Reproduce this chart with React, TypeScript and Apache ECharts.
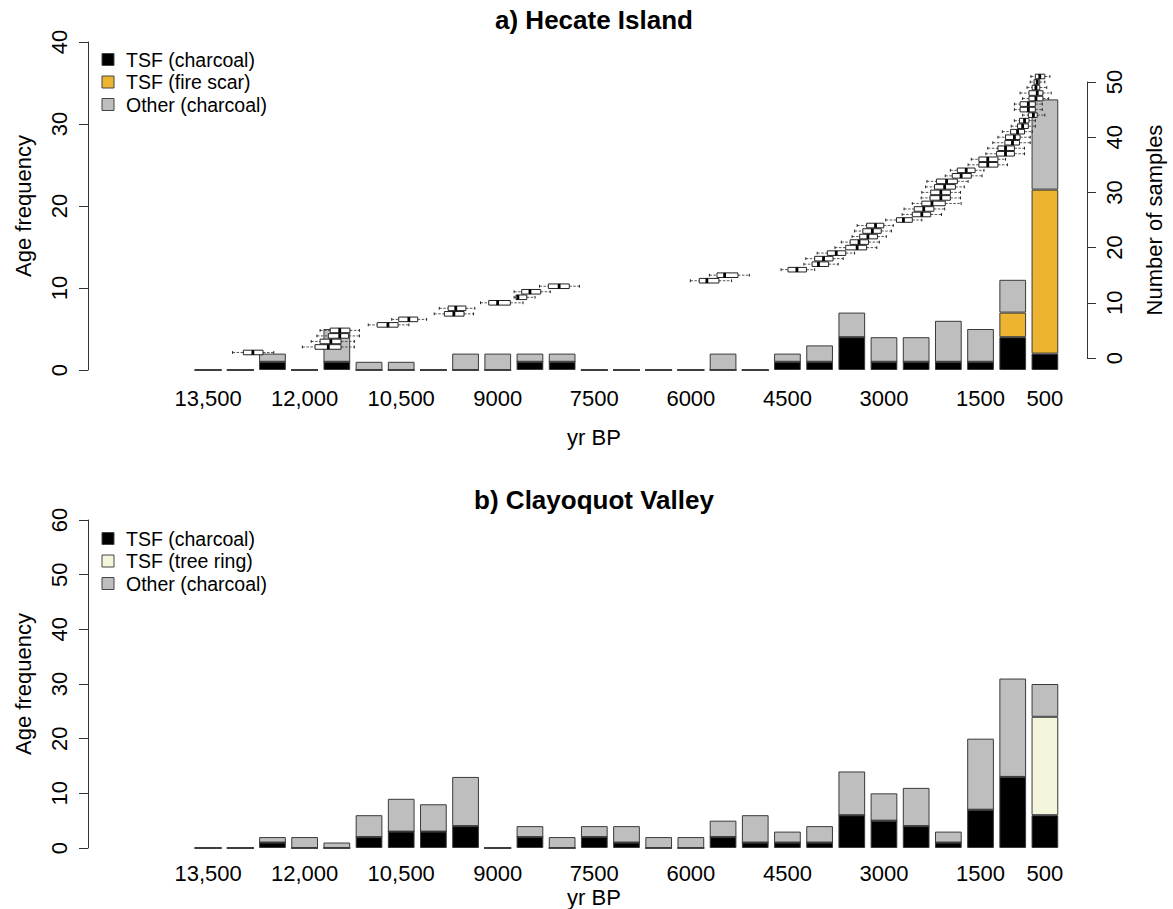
import React, { useEffect, useRef } from "react";
import * as echarts from "echarts";

const FONT = "'Liberation Sans', Arial, Helvetica, sans-serif";

// 500-yr bins (yr BP), oldest first
const binAges = [13500, 13000, 12500, 12000, 11500, 11000, 10500, 10000, 9500, 9000, 8500, 8000, 7500, 7000, 6500, 6000, 5500, 5000, 4500, 4000, 3500, 3000, 2500, 2000, 1500, 1000, 500];
const binLabels = ["13,500", "", "", "12,000", "", "", "10,500", "", "", "9000", "", "", "7500", "", "", "6000", "", "", "4500", "", "", "3000", "", "", "1500", "", "500"];

// a) Hecate Island
const hecateCharcoal = [0, 0, 1, 0, 1, 0, 0, 0, 0, 0, 1, 1, 0, 0, 0, 0, 0, 0, 1, 1, 4, 1, 1, 1, 1, 4, 2];
const hecateFireScar = [0, 0, 0, 0, 0, 0, 0, 0, 0, 0, 0, 0, 0, 0, 0, 0, 0, 0, 0, 0, 0, 0, 0, 0, 0, 3, 20];
const hecateOther = [0, 0, 1, 0, 4, 1, 1, 0, 2, 2, 1, 1, 0, 0, 0, 0, 2, 0, 1, 2, 3, 3, 3, 5, 4, 4, 11];

// b) Clayoquot Valley
const clayCharcoal = [0, 0, 1, 0, 0, 2, 3, 3, 4, 0, 2, 0, 2, 1, 0, 0, 2, 1, 1, 1, 6, 5, 4, 1, 7, 13, 6];
const clayTreeRing = [0, 0, 0, 0, 0, 0, 0, 0, 0, 0, 0, 0, 0, 0, 0, 0, 0, 0, 0, 0, 0, 0, 0, 0, 0, 0, 18];
const clayOther = [0, 0, 1, 2, 1, 4, 6, 5, 9, 0, 2, 2, 2, 3, 2, 2, 3, 5, 2, 3, 8, 5, 7, 2, 13, 18, 6];

// Hecate sample age distributions (yr BP): [whisker old, box old, median, box young, whisker young]
const hecateSamples = [
  [13110, 12940, 12790, 12630, 12460],
  [12010, 11810, 11600, 11400, 11190],
  [11870, 11730, 11560, 11400, 11190],
  [11780, 11600, 11420, 11280, 11110],
  [11730, 11570, 11420, 11260, 11110],
  [10970, 10830, 10660, 10500, 10330],
  [10600, 10490, 10330, 10190, 10050],
  [9930, 9770, 9620, 9460, 9310],
  [9850, 9710, 9590, 9430, 9290],
  [9200, 9070, 8930, 8730, 8530],
  [8670, 8640, 8610, 8470, 8340],
  [8670, 8550, 8420, 8250, 8100],
  [8270, 8130, 7960, 7800, 7640],
  [5890, 5750, 5630, 5440, 5240],
  [5590, 5470, 5350, 5140, 4960],
  [4460, 4350, 4210, 4060, 3930],
  [4100, 3970, 3870, 3710, 3560],
  [4070, 3930, 3790, 3640, 3480],
  [3890, 3730, 3590, 3440, 3300],
  [3610, 3440, 3260, 3110, 2950],
  [3510, 3370, 3230, 3080, 2910],
  [3340, 3220, 3090, 2940, 2800],
  [3300, 3170, 3020, 2880, 2720],
  [3260, 3110, 2970, 2840, 2690],
  [2810, 2640, 2530, 2390, 2240],
  [2550, 2390, 2240, 2100, 1930],
  [2520, 2360, 2210, 2050, 1880],
  [2390, 2240, 2080, 1870, 1620],
  [2250, 2110, 1940, 1790, 1630],
  [2240, 2100, 1940, 1790, 1630],
  [2180, 2040, 1880, 1710, 1570],
  [2160, 2010, 1850, 1680, 1510],
  [1870, 1760, 1620, 1460, 1290],
  [1790, 1680, 1540, 1400, 1260],
  [1510, 1340, 1200, 1040, 890],
  [1460, 1340, 1200, 1040, 920],
  [1230, 1060, 920, 780, 620],
  [1200, 1040, 920, 780, 620],
  [1120, 930, 810, 700, 530],
  [1040, 920, 780, 690, 530],
  [970, 840, 730, 620, 500],
  [830, 730, 650, 560, 450],
  [780, 700, 620, 550, 450],
  [650, 560, 480, 420, 300],
  [780, 690, 560, 450, 340],
  [780, 690, 560, 450, 340],
  [650, 550, 440, 330, 240],
  [690, 550, 420, 330, 200],
  [580, 500, 440, 380, 270],
  [530, 470, 420, 380, 300],
  [520, 450, 380, 300, 220],
];

const C_BLACK = "#000000";
const C_FIRE = "#ECB431";
const C_TREE = "#F5F5DC";
const C_OTHER = "#BEBEBE";
const BORDER = "#3a3a3a";

const GRID_L = 192;
const GRID_R = 1173 - 1061;
const LEFT_AXIS_X = 88;
const RIGHT_AXIS_X = 1100;
const PLOT_CX = 594;

function barSeries(name: string, data: number[], color: string, axis: number, stack: string) {
  return {
    type: "bar",
    name,
    data,
    stack,
    xAxisIndex: axis,
    yAxisIndex: axis,
    barCategoryGap: "17%",
    itemStyle: { color, borderColor: BORDER, borderWidth: 1 },
    emphasis: { disabled: true },
    z: 2,
  };
}

function legendGraphics(midRow: number, items: { name: string; color: string }[]) {
  const out: any[] = [];
  const step = 22.5;
  items.forEach((it, i) => {
    const cy = midRow + (i - 1) * step;
    out.push({
      type: "rect",
      shape: { x: 102, y: cy - 6, width: 12, height: 12 },
      style: { fill: it.color, stroke: "#444", lineWidth: 1 },
    });
    out.push({
      type: "text",
      x: 126,
      y: cy,
      style: { text: it.name, fontSize: 19.5, fontFamily: FONT, fill: "#000", align: "left", verticalAlign: "middle" },
    });
  });
  return out;
}

function yAxisCommon(min: number, max: number, name: string, gridIndex: number, position: string, offset: number, labelMargin: number, nameGap: number) {
  return {
    type: "value",
    gridIndex,
    min,
    max,
    interval: 10,
    position,
    offset,
    name,
    nameLocation: "middle",
    nameRotate: 90,
    nameGap,
    nameTextStyle: { fontSize: 22, fontFamily: FONT, color: "#000" },
    axisLine: { show: true, lineStyle: { color: "#333", width: 1 } },
    axisTick: { show: true, length: 9, lineStyle: { color: "#333", width: 1 } },
    axisLabel: { rotate: 90, margin: labelMargin, fontSize: 22, fontFamily: FONT, color: "#000" },
    splitLine: { show: false },
  };
}

function catAxis(gridIndex: number, margin: number) {
  return {
    type: "category",
    gridIndex,
    data: binAges.map(String),
    axisLine: { show: false },
    axisTick: { show: false },
    axisLabel: {
      interval: 0,
      margin,
      fontSize: 22,
      fontFamily: FONT,
      color: "#000",
      formatter: (_v: string, i: number) => binLabels[i],
    },
    splitLine: { show: false },
  };
}

export default function App() {
  const ref = useRef<HTMLDivElement>(null);
  useEffect(() => {
    if (!ref.current) return;
    const chart = echarts.init(ref.current, undefined, { renderer: "svg" });
    const option: any = {
      animation: false,
      backgroundColor: "#fff",
      grid: [
        { left: GRID_L, right: GRID_R, top: 42, height: 328 },
        { left: GRID_L, right: GRID_R, top: 82, height: 276 },
        { left: GRID_L, right: GRID_R, top: 520, height: 328 },
      ],
      xAxis: [
        catAxis(0, 17),
        { type: "value", gridIndex: 1, min: 250, max: 13750, inverse: true, show: false },
        catAxis(2, 14),
      ],
      yAxis: [
        yAxisCommon(0, 40, "Age frequency", 0, "left", GRID_L - LEFT_AXIS_X, 18, 54),
        yAxisCommon(0, 50, "Number of samples", 1, "right", RIGHT_AXIS_X - 1061, 16, 56),
        yAxisCommon(0, 60, "Age frequency", 2, "left", GRID_L - LEFT_AXIS_X, 18, 54),
      ],
      series: [
        barSeries("TSF (charcoal)", hecateCharcoal, C_BLACK, 0, "a"),
        barSeries("TSF (fire scar)", hecateFireScar, C_FIRE, 0, "a"),
        barSeries("Other (charcoal)", hecateOther, C_OTHER, 0, "a"),
        {
          type: "custom",
          name: "Samples",
          xAxisIndex: 1,
          yAxisIndex: 1,
          clip: false,
          z: 5,
          data: hecateSamples.map((s, i) => [i + 1, ...s]),
          encode: { x: [1, 2, 3, 4, 5], y: 0 },
          renderItem: (_p: any, api: any) => {
            const n = api.value(0);
            const p1 = api.coord([api.value(1), n]);
            const y = p1[1];
            const xa = p1[0];
            const xb = api.coord([api.value(2), n])[0];
            const xm = api.coord([api.value(3), n])[0];
            const xc = api.coord([api.value(4), n])[0];
            const xd = api.coord([api.value(5), n])[0];
            const h = 2.3;
            const dash = { stroke: "#444", lineWidth: 0.9, lineDash: [2.5, 1.5] };
            const staple = { stroke: "#222", lineWidth: 1 };
            return {
              type: "group",
              children: [
                { type: "line", shape: { x1: xa, y1: y, x2: xb, y2: y }, style: dash },
                { type: "line", shape: { x1: xc, y1: y, x2: xd, y2: y }, style: dash },
                { type: "line", shape: { x1: xa, y1: y - 1.4, x2: xa, y2: y + 1.4 }, style: staple },
                { type: "line", shape: { x1: xd, y1: y - 1.4, x2: xd, y2: y + 1.4 }, style: staple },
                { type: "rect", shape: { x: xb, y: y - h, width: xc - xb, height: 2 * h }, style: { fill: "#fff", stroke: "#222", lineWidth: 1 } },
                { type: "line", shape: { x1: xm, y1: y - h, x2: xm, y2: y + h }, style: { stroke: "#000", lineWidth: 2.8 } },
              ],
            };
          },
        },
        barSeries("TSF (charcoal)", clayCharcoal, C_BLACK, 2, "b"),
        barSeries("TSF (tree ring)", clayTreeRing, C_TREE, 2, "b"),
        barSeries("Other (charcoal)", clayOther, C_OTHER, 2, "b"),
      ],
      graphic: [
        {
          type: "text",
          x: PLOT_CX,
          y: 20,
          style: { text: "a) Hecate Island", fontSize: 26, fontWeight: "bold", fontFamily: FONT, fill: "#000", align: "center", verticalAlign: "middle" },
        },
        {
          type: "text",
          x: PLOT_CX,
          y: 500,
          style: { text: "b) Clayoquot Valley", fontSize: 26, fontWeight: "bold", fontFamily: FONT, fill: "#000", align: "center", verticalAlign: "middle" },
        },
        {
          type: "text",
          x: PLOT_CX,
          y: 437,
          style: { text: "yr BP", fontSize: 22, fontFamily: FONT, fill: "#000", align: "center", verticalAlign: "middle" },
        },
        {
          type: "text",
          x: PLOT_CX,
          y: 897,
          style: { text: "yr BP", fontSize: 22, fontFamily: FONT, fill: "#000", align: "center", verticalAlign: "middle" },
        },
        ...legendGraphics(82, [
          { name: "TSF (charcoal)", color: C_BLACK },
          { name: "TSF (fire scar)", color: C_FIRE },
          { name: "Other (charcoal)", color: C_OTHER },
        ]),
        ...legendGraphics(561, [
          { name: "TSF (charcoal)", color: C_BLACK },
          { name: "TSF (tree ring)", color: C_TREE },
          { name: "Other (charcoal)", color: C_OTHER },
        ]),
      ],
    };
    chart.setOption(option);
    return () => chart.dispose();
  }, []);
  return <div ref={ref} style={{ position: "absolute", left: 0, top: 0, width: 1173, height: 909 }} />;
}
